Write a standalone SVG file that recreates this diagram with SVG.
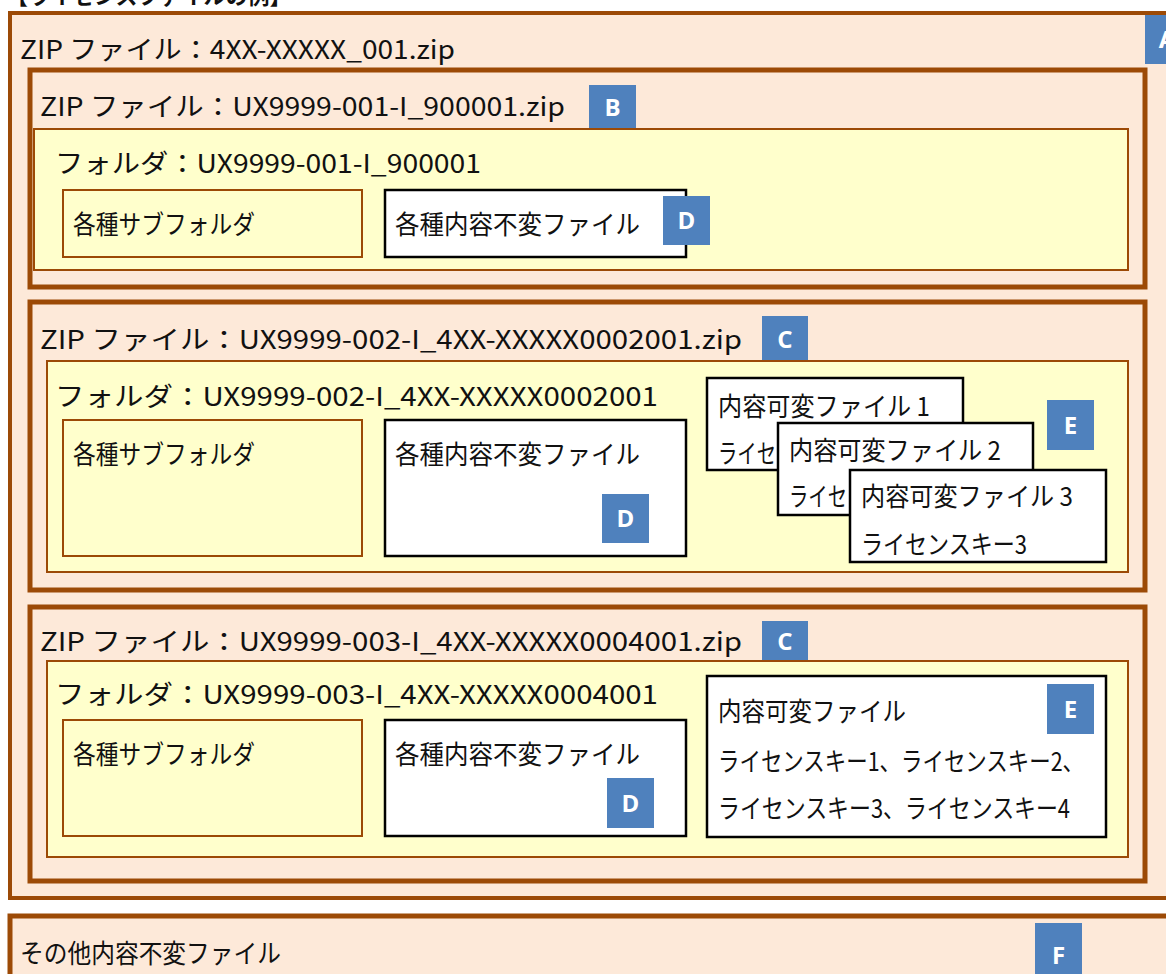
<svg xmlns="http://www.w3.org/2000/svg" width="1166" height="974" viewBox="0 0 1166 974">
<style>
.zip{fill:#FDE9D9;stroke:#9C4A06;stroke-width:5}
.outer{fill:#FDE9D9;stroke:#9C4A06;stroke-width:4}
.fold{fill:#FFFFCC;stroke:#9C4A06;stroke-width:2}
.file{fill:#FFFFFF;stroke:#000000;stroke-width:2.5}
.badge{fill:#4F81BD}
.bl{font-family:"Open Sans","Noto Sans",sans-serif;font-weight:bold;font-size:24px;fill:#FFFFFF;text-anchor:middle}
.t{font-family:"Noto Sans CJK JP","Noto Sans",sans-serif;font-size:26px;fill:#111111}
.title{font-family:"Noto Sans CJK JP",sans-serif;font-size:22px;font-weight:bold;fill:#111111}
</style>
<rect width="1166" height="974" fill="#FFFFFF"/>
<text class="title" x="6" y="4">【ライセンスファイルの例】</text>

<g id="A">
<rect class="outer" x="10" y="13" width="1170" height="885"/>
<text class="t" x="20" y="59" textLength="435" lengthAdjust="spacingAndGlyphs">ZIP ファイル：4XX-XXXXX_001.zip</text>
<rect class="badge" x="1145" y="15" width="30" height="49"/>
<text class="bl" x="1167" y="48">A</text>
</g>

<g id="B">
<rect class="zip" x="30" y="70" width="1115" height="217"/>
<text class="t" x="40" y="116" textLength="525" lengthAdjust="spacingAndGlyphs">ZIP ファイル：UX9999-001-I_900001.zip</text>
<rect class="badge" x="589" y="85" width="47" height="44"/>
<text class="bl" x="612.5" y="116">B</text>
<rect class="fold" x="34" y="129" width="1094" height="141"/>
<text class="t" x="55" y="173" textLength="426" lengthAdjust="spacingAndGlyphs">フォルダ：UX9999-001-I_900001</text>
<rect class="fold" x="63" y="190" width="299" height="67"/>
<text class="t" x="73" y="234" textLength="182" lengthAdjust="spacingAndGlyphs">各種サブフォルダ</text>
<rect class="file" x="385" y="190" width="301" height="67"/>
<text class="t" x="395" y="234" textLength="245" lengthAdjust="spacingAndGlyphs">各種内容不変ファイル</text>
<rect class="badge" x="663" y="196" width="47" height="49"/>
<text class="bl" x="686.5" y="229">D</text>
</g>

<g id="C1">
<rect class="zip" x="30" y="302" width="1115" height="288"/>
<text class="t" x="40" y="349" textLength="702" lengthAdjust="spacingAndGlyphs">ZIP ファイル：UX9999-002-I_4XX-XXXXX0002001.zip</text>
<rect class="badge" x="762" y="316" width="46" height="46"/>
<text class="bl" x="785" y="348">C</text>
<rect class="fold" x="47" y="361" width="1081" height="211"/>
<text class="t" x="55" y="406" textLength="603" lengthAdjust="spacingAndGlyphs">フォルダ：UX9999-002-I_4XX-XXXXX0002001</text>
<rect class="fold" x="63" y="420" width="299" height="136"/>
<text class="t" x="73" y="464" textLength="182" lengthAdjust="spacingAndGlyphs">各種サブフォルダ</text>
<rect class="file" x="385" y="420" width="301" height="136"/>
<text class="t" x="395" y="464" textLength="245" lengthAdjust="spacingAndGlyphs">各種内容不変ファイル</text>
<rect class="badge" x="602" y="494" width="47" height="49"/>
<text class="bl" x="625.5" y="527">D</text>
<rect class="badge" x="1047" y="400" width="47" height="50"/>
<text class="bl" x="1070.5" y="434">E</text>
<g id="E1-1">
<rect class="file" x="707" y="378" width="256" height="92"/>
<text class="t" x="718" y="416" textLength="212" lengthAdjust="spacingAndGlyphs">内容可変ファイル 1</text>
<text class="t" x="718" y="463" textLength="58" lengthAdjust="spacingAndGlyphs">ライセ</text>
</g>
<g id="E1-2">
<rect class="file" x="778" y="423" width="255" height="92"/>
<text class="t" x="789" y="460" textLength="212" lengthAdjust="spacingAndGlyphs">内容可変ファイル 2</text>
<text class="t" x="789" y="506" textLength="58" lengthAdjust="spacingAndGlyphs">ライセ</text>
</g>
<g id="E1-3">
<rect class="file" x="850" y="470" width="256" height="92"/>
<text class="t" x="861" y="506" textLength="212" lengthAdjust="spacingAndGlyphs">内容可変ファイル 3</text>
<text class="t" x="861" y="554" textLength="166" lengthAdjust="spacingAndGlyphs">ライセンスキー3</text>
</g>
</g>

<g id="C2">
<rect class="zip" x="30" y="607" width="1115" height="274"/>
<text class="t" x="40" y="651" textLength="702" lengthAdjust="spacingAndGlyphs">ZIP ファイル：UX9999-003-I_4XX-XXXXX0004001.zip</text>
<rect class="badge" x="762" y="621" width="46" height="41"/>
<text class="bl" x="785" y="650">C</text>
<rect class="fold" x="47" y="661" width="1081" height="196"/>
<text class="t" x="55" y="704" textLength="603" lengthAdjust="spacingAndGlyphs">フォルダ：UX9999-003-I_4XX-XXXXX0004001</text>
<rect class="fold" x="63" y="720" width="299" height="116"/>
<text class="t" x="73" y="764" textLength="182" lengthAdjust="spacingAndGlyphs">各種サブフォルダ</text>
<rect class="file" x="385" y="720" width="301" height="116"/>
<text class="t" x="395" y="764" textLength="245" lengthAdjust="spacingAndGlyphs">各種内容不変ファイル</text>
<rect class="badge" x="607" y="778" width="47" height="50"/>
<text class="bl" x="630.5" y="812">D</text>
<rect class="file" x="707" y="676" width="399" height="161"/>
<text class="t" x="718" y="721" textLength="188" lengthAdjust="spacingAndGlyphs">内容可変ファイル</text>
<text class="t" x="718" y="771" textLength="366" lengthAdjust="spacingAndGlyphs">ライセンスキー1、ライセンスキー2、</text>
<text class="t" x="718" y="818" textLength="352" lengthAdjust="spacingAndGlyphs">ライセンスキー3、ライセンスキー4</text>
<rect class="badge" x="1047" y="684" width="47" height="50"/>
<text class="bl" x="1070.5" y="718">E</text>
</g>

<g id="F">
<rect class="outer" x="10" y="916" width="1170" height="70" style="stroke-width:5"/>
<text class="t" x="20" y="963" textLength="261" lengthAdjust="spacingAndGlyphs">その他内容不変ファイル</text>
<rect class="badge" x="1035" y="923" width="47" height="51"/>
<text class="bl" x="1058.5" y="964">F</text>
</g>
</svg>
